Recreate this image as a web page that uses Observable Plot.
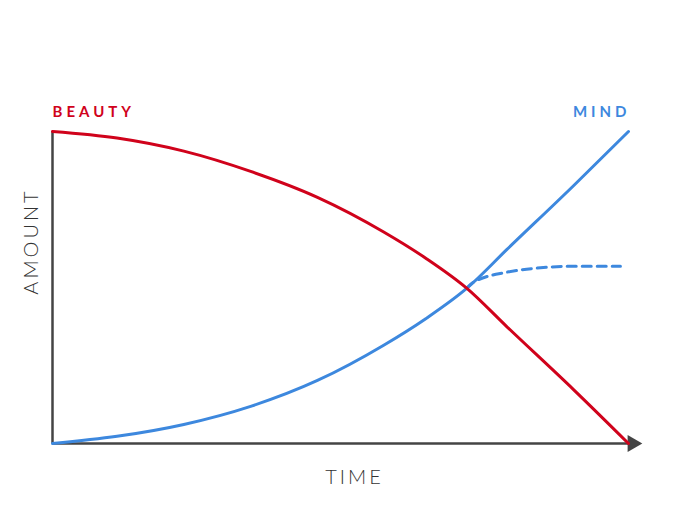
<!DOCTYPE html>
<html><head><meta charset="utf-8">
<script src="https://cdn.jsdelivr.net/npm/d3@7"></script>
<script src="https://cdn.jsdelivr.net/npm/@observablehq/plot@0.6"></script>
<style>
body{margin:0;background:#fff;}
svg text{letter-spacing:3px;}
svg g[fill="#d0021b"] text, svg g[fill="#3d88de"] text{letter-spacing:4px;}
</style>
</head><body><div id="chart"></div>
<script>
const beautyX = [0, 11.2, 22.8, 34.4, 46.0, 57.5, 64.8, 71.9, 78.9, 90.5, 100];
const beautyY = [100, 97.9, 93.7, 87.2, 78.9, 67.8, 59.4, 49.8, 37.4, 17.2, 0];
const mindX = [0, 11.2, 22.8, 34.4, 46.0, 57.5, 64.8, 71.9, 78.9, 90.5, 100];
const mindY = [0, 2.3, 6.1, 11.9, 20.2, 31.5, 40.0, 49.7, 62.2, 82.7, 100];
const plateauX = [71.9, 73.1, 78.9, 84.7, 90.5, 98.6];
const plateauY = [49.7, 51.7, 54.9, 56.3, 56.8, 56.8];
const seriesLabels = ["BEAUTY", "MIND"];
const axisLabels = ["AMOUNT", "TIME"];

const beauty = beautyX.map((x, i) => ({x, y: beautyY[i]}));
const mind = mindX.map((x, i) => ({x, y: mindY[i]}));
const plateau = plateauX.map((x, i) => ({x, y: plateauY[i]}));

const red = "#d0021b";
const blue = "#3d88de";
const axisColor = "#444";

const chart = Plot.plot({
  width: 679,
  height: 509,
  marginLeft: 52,
  marginRight: 51,
  marginTop: 131,
  marginBottom: 66,
  x: {domain: [0, 100], axis: null},
  y: {domain: [0, 100], axis: null},
  style: {fontFamily: "Lato, sans-serif", background: "#fff"},
  marks: [
    Plot.ruleX([0], {y1: 0, y2: 100, stroke: axisColor, strokeWidth: 2.5}),
    Plot.ruleY([0], {x1: 0, x2: 100, stroke: axisColor, strokeWidth: 2.5}),
    Plot.dot([{x: 100.7, y: 0}], {x: "x", y: "y", symbol: "triangle", rotate: 90, r: 6.3, fill: axisColor, stroke: null}),
    Plot.line(plateau, {x: "x", y: "y", curve: "monotone-x", stroke: blue, strokeWidth: 3, strokeDasharray: "9,6"}),
    Plot.line(mind, {x: "x", y: "y", curve: "monotone-x", stroke: blue, strokeWidth: 3}),
    Plot.line(beauty, {x: "x", y: "y", curve: "monotone-x", stroke: red, strokeWidth: 3}),
    Plot.text([seriesLabels[0]], {x: 0, y: 100, dy: -19, text: d => d, textAnchor: "start", fill: red, fontSize: 15, fontWeight: "bold"}),
    Plot.text([seriesLabels[1]], {x: 100, y: 100, dy: -19, dx: 2, text: d => d, textAnchor: "end", fill: blue, fontSize: 15, fontWeight: "bold"}),
    Plot.text([axisLabels[0]], {frameAnchor: "left", textAnchor: "middle", dx: -21, dy: -46, text: d => d, rotate: -90, fill: "#333", fontSize: 20, fontWeight: 300}),
    Plot.text([axisLabels[1]], {frameAnchor: "bottom", textAnchor: "middle", dx: 14, dy: 40, text: d => d, fill: "#333", fontSize: 20, fontWeight: 300})
  ]
});
document.getElementById("chart").appendChild(chart);
</script>
</body></html>
